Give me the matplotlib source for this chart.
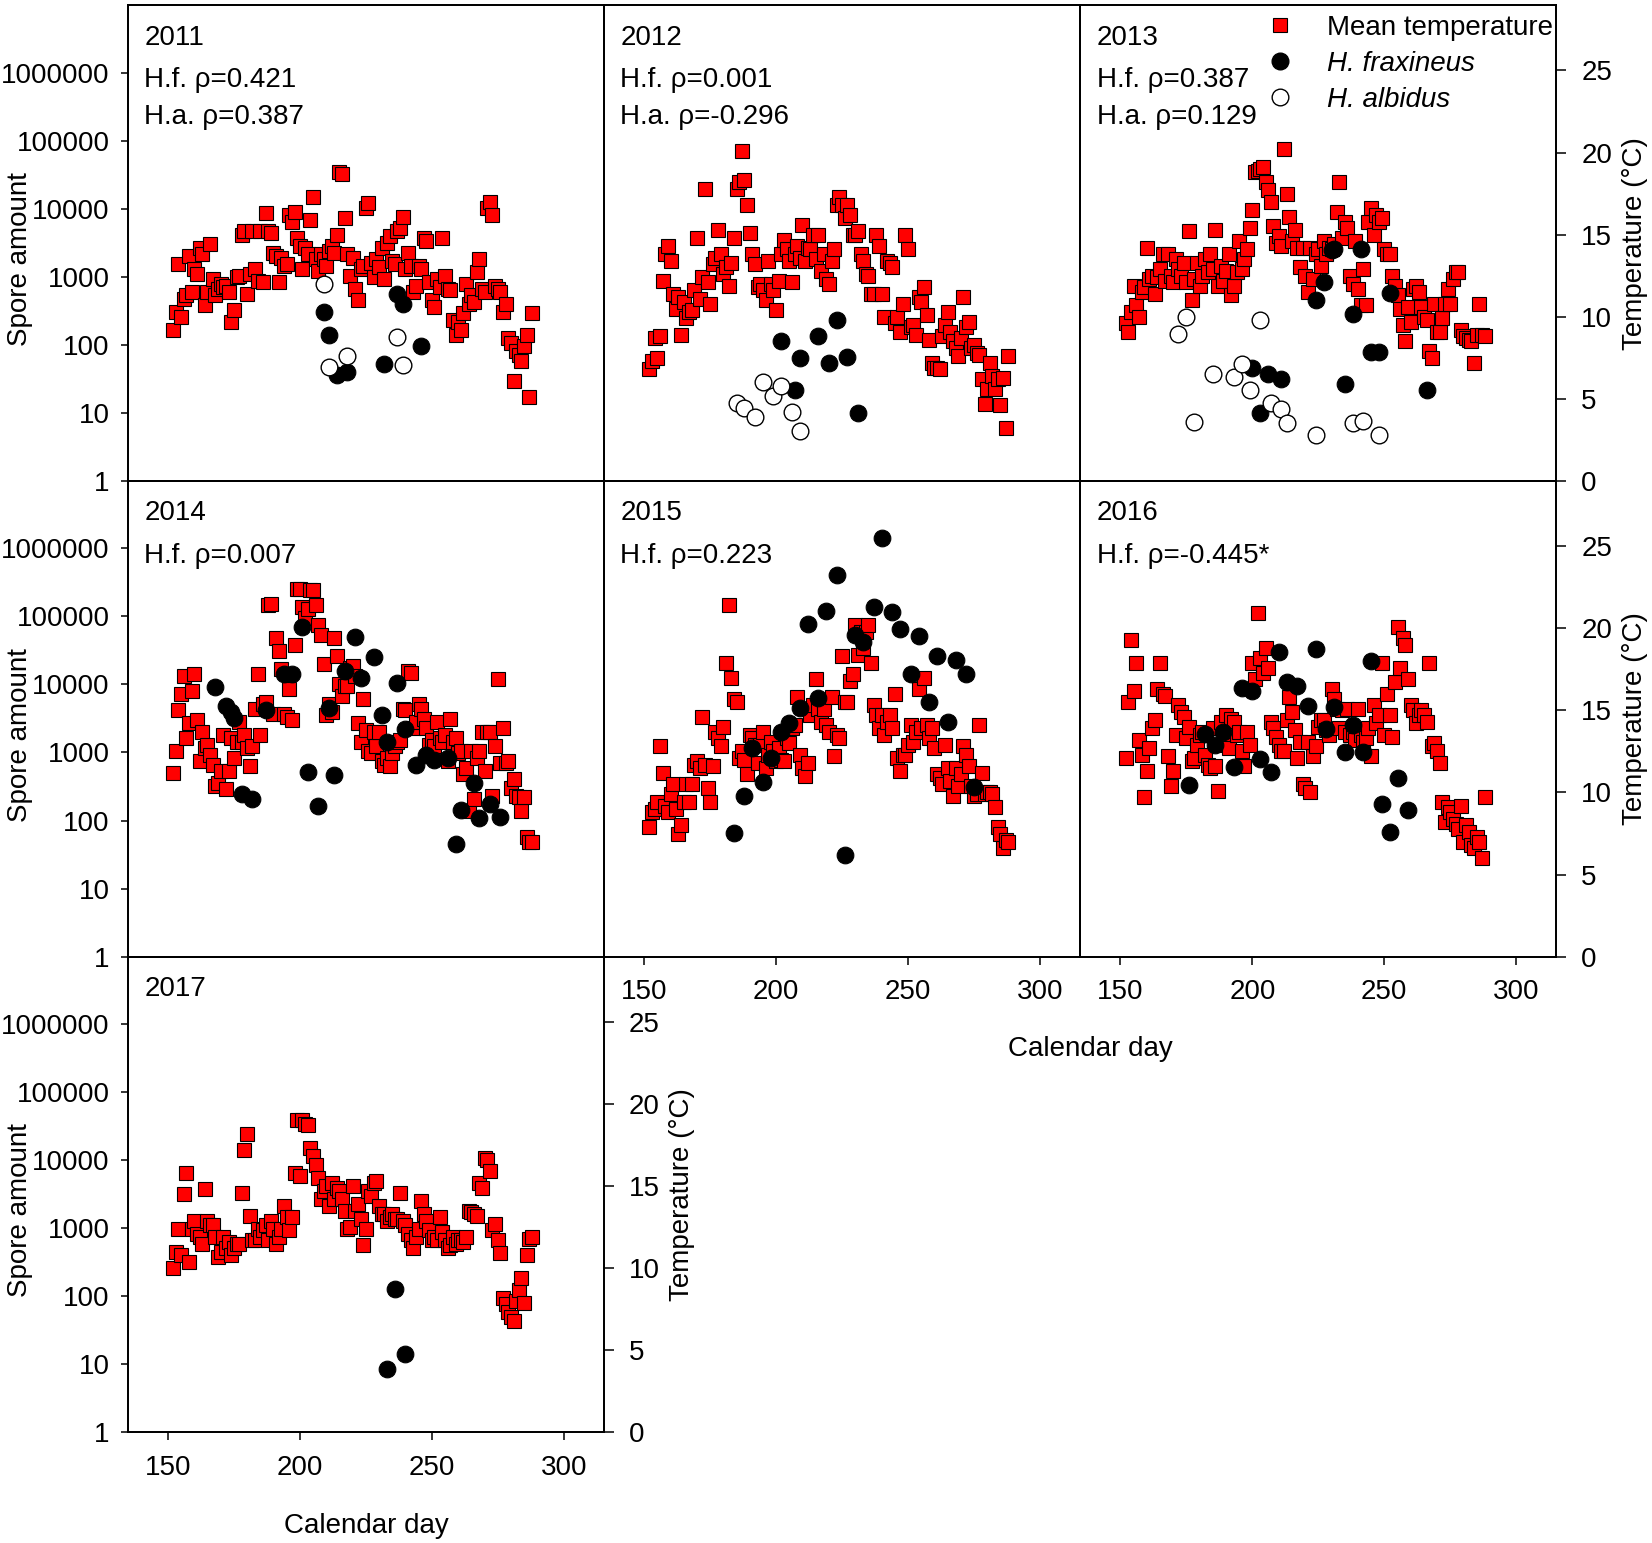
import matplotlib
matplotlib.use("Agg")
import matplotlib.pyplot as plt
import numpy as np
from matplotlib.lines import Line2D
from matplotlib.ticker import NullLocator

plt.rcParams['font.family'] = ['Liberation Sans', 'DejaVu Sans']

# daily mean temperature, calendar days 152-288
days = np.arange(152, 289)

temp_2011 = [
    9.2, 10.3, 13.2, 10.0, 11.1, 11.3, 13.7, 11.5, 12.9, 12.6,
    14.2, 13.8, 10.7, 11.5, 14.4, 12.3, 11.3, 11.7, 12.0, 11.8,
    11.9, 11.5, 9.7, 10.4, 12.4, 12.5, 15.0, 15.2, 11.4, 12.6,
    15.2, 12.9, 12.2, 15.2, 12.1, 16.3, 15.2, 15.1, 13.9, 13.7,
    12.1, 13.6, 13.1, 13.2, 16.2, 15.8, 16.4, 14.8, 14.3, 12.9,
    14.2, 13.8, 15.9, 17.3, 13.5, 12.8, 13.8, 13.5, 13.1, 14.0,
    14.3, 13.9, 15.0, 18.8, 18.7, 16.0, 13.8, 12.5, 13.6, 11.7,
    11.0, 12.9, 13.1, 16.6, 16.9, 13.3, 12.4, 13.5, 13.0, 14.2,
    12.3, 14.5, 14.9, 13.4, 13.2, 15.2, 15.4, 16.1, 12.9, 13.9,
    13.1, 11.5, 11.9, 13.1, 12.9, 14.8, 14.6, 12.1, 11.0, 10.6,
    12.3, 11.8, 14.8, 12.5, 11.7, 11.6, 9.8, 8.9, 9.7, 9.2,
    10.2, 12.0, 10.8, 11.3, 10.9, 12.7, 13.5, 11.7, 11.5, 16.6,
    17.0, 16.2, 11.9, 11.7, 11.5, 10.3, 10.8, 8.7, 8.4, 6.1,
    7.9, 7.7, 7.3, 8.2, 8.9, 5.1, 10.2]

temp_2012 = [
    6.8, 7.3, 8.7, 7.5, 8.8, 12.2, 13.8, 14.3, 13.4, 11.4,
    10.5, 11.2, 8.9, 10.9, 9.9, 10.3, 10.4, 11.6, 14.8, 11.1,
    12.4, 17.8, 12.1, 10.8, 13.2, 13.6, 15.3, 13.8, 12.6, 13.0,
    11.9, 13.3, 14.8, 17.8, 18.2, 20.1, 18.3, 16.8, 15.1, 13.8,
    13.2, 11.8, 12.0, 11.6, 11.0, 13.4, 12.0, 11.6, 10.4, 12.2,
    13.8, 14.7, 14.1, 13.4, 12.1, 13.8, 14.3, 13.6, 15.6, 13.4,
    14.2, 14.1, 15.0, 13.5, 15.0, 12.8, 13.8, 12.3, 12.0, 13.4,
    14.1, 16.8, 17.3, 16.8, 16.0, 16.8, 16.2, 15.0, 15.0, 15.2,
    13.8, 13.4, 12.6, 12.5, 11.4, 11.4, 15.0, 14.3, 11.4, 10.0,
    13.4, 13.3, 13.0, 9.6, 10.0, 9.1, 10.8, 15.0, 14.1, 9.4,
    9.5, 8.9, 11.2, 10.9, 11.8, 10.1, 8.6, 7.2, 6.9, 6.9,
    6.8, 8.8, 9.5, 10.3, 9.1, 8.5, 8.1, 7.6, 8.7, 11.2,
    9.4, 9.7, 8.1, 8.3, 7.8, 7.7, 6.2, 4.7, 5.6, 7.2,
    6.4, 5.6, 6.2, 4.6, 6.3, 3.2, 7.6]

temp_2013 = [
    9.6, 9.1, 10.3, 11.9, 10.7, 10.0, 11.5, 11.8, 14.2, 12.3,
    12.5, 11.4, 12.4, 12.9, 13.8, 12.2, 13.8, 12.5, 12.1, 13.5,
    12.9, 12.5, 13.3, 12.1, 15.2, 11.0, 12.3, 13.3, 11.9, 12.5,
    13.5, 12.7, 13.8, 12.9, 15.3, 11.9, 13.1, 12.2, 12.8, 13.8,
    11.3, 11.9, 12.7, 14.6, 12.9, 13.5, 14.1, 15.4, 16.5, 18.8,
    18.9, 19.0, 19.1, 18.2, 17.7, 17.0, 15.5, 14.5, 14.9, 14.3,
    20.2, 17.5, 16.1, 14.6, 15.3, 14.2, 13.0, 14.2, 12.5, 11.5,
    14.2, 12.3, 13.8, 14.1, 13.1, 14.6, 13.8, 14.2, 14.1, 14.4,
    16.4, 18.2, 14.8, 15.8, 15.4, 12.5, 12.0, 14.6, 11.7, 10.7,
    12.9, 10.7, 15.8, 16.6, 15.0, 16.2, 15.8, 16.0, 14.1, 13.8,
    13.8, 12.5, 11.9, 11.3, 10.5, 9.5, 8.5, 10.6, 9.7, 11.7,
    11.9, 11.5, 10.6, 10.0, 9.8, 7.9, 7.5, 10.8, 9.1, 9.1,
    9.9, 10.8, 11.7, 10.8, 12.3, 12.7, 12.7, 9.2, 8.8, 8.7,
    8.6, 8.5, 7.2, 8.9, 10.8, 8.9, 8.8]

temp_2014 = [
    11.2, 12.5, 15.0, 16.0, 17.1, 13.3, 14.2, 16.2, 17.2, 14.4,
    11.9, 13.7, 12.7, 12.9, 12.3, 11.7, 10.4, 10.6, 11.3, 13.5,
    10.2, 11.3, 13.3, 12.1, 13.1, 14.3, 13.1, 13.5, 12.7, 11.6,
    12.8, 15.1, 17.2, 13.5, 15.4, 15.5, 21.4, 21.5, 14.8, 19.4,
    18.6, 17.5, 14.8, 14.6, 16.3, 14.4, 19.0, 22.4, 22.4, 21.3,
    20.6, 21.2, 22.3, 22.3, 21.4, 20.2, 19.6, 17.8, 14.7, 15.4,
    14.9, 19.4, 18.3, 16.6, 15.9, 16.5, 16.5, 17.6, 17.7, 17.1,
    14.2, 13.1, 15.7, 13.8, 12.5, 12.4, 13.7, 12.8, 13.7, 11.9,
    11.7, 12.1, 11.6, 12.4, 12.8, 13.1, 13.2, 15.1, 15.0, 17.4,
    17.3, 13.9, 14.3, 15.4, 15.1, 14.5, 13.9, 12.9, 13.2, 12.8,
    14.3, 13.3, 13.1, 13.5, 11.9, 14.5, 13.1, 13.3, 12.4, 12.5,
    11.1, 11.5, 8.9, 12.5, 9.6, 12.1, 12.5, 13.7, 11.3, 13.7,
    13.7, 9.8, 12.8, 16.9, 11.8, 13.9, 11.8, 11.9, 10.3, 10.8,
    9.8, 9.7, 8.9, 9.7, 7.3, 7.0, 7.0]

temp_2015 = [
    7.9, 8.8, 9.0, 9.4, 12.8, 11.2, 9.2, 8.8, 9.9, 10.5,
    9.0, 7.5, 8.0, 9.4, 10.5, 9.4, 10.5, 11.7, 11.9, 11.5,
    14.6, 11.7, 10.3, 9.4, 11.6, 13.7, 13.3, 12.8, 14.0, 17.9,
    21.4, 17.0, 15.7, 15.5, 12.1, 12.5, 12.0, 11.1, 13.5, 13.3,
    12.9, 11.8, 12.9, 13.7, 11.5, 12.3, 13.1, 12.5, 11.9, 12.7,
    12.0, 11.9, 13.3, 13.0, 13.9, 14.1, 15.8, 12.3, 11.5, 11.0,
    11.8, 14.7, 15.3, 16.9, 15.1, 14.3, 15.1, 14.1, 13.7, 15.8,
    12.2, 13.5, 13.3, 18.3, 15.5, 15.5, 16.8, 17.2, 20.2, 18.4,
    19.8, 18.8, 19.8, 20.2, 17.9, 15.3, 14.7, 13.9, 14.7, 13.5,
    14.3, 14.7, 13.9, 16.0, 12.1, 11.3, 12.3, 12.3, 12.9, 14.1,
    13.1, 13.7, 16.3, 13.9, 17.0, 14.1, 13.3, 13.9, 12.7, 11.1,
    10.9, 10.5, 12.9, 11.5, 10.7, 9.8, 11.5, 10.4, 11.1, 12.8,
    12.3, 11.6, 10.4, 9.8, 9.9, 14.1, 11.2, 9.9, 10.0, 10.0,
    9.9, 9.1, 7.9, 7.5, 6.6, 7.1, 7.0]

temp_2016 = [
    12.1, 15.5, 19.3, 16.2, 17.9, 13.2, 12.3, 9.7, 11.3, 12.7,
    13.9, 14.4, 16.3, 17.9, 16.0, 15.9, 12.2, 10.4, 11.3, 13.5,
    15.3, 14.9, 14.6, 13.3, 14.0, 11.9, 12.1, 12.9, 13.5, 13.7,
    12.3, 11.7, 11.5, 13.9, 11.6, 10.1, 14.3, 12.9, 14.7, 12.7,
    14.5, 14.3, 13.5, 13.7, 12.5, 11.6, 13.7, 12.9, 17.9, 16.9,
    20.9, 18.2, 17.3, 18.8, 17.6, 14.3, 13.9, 13.4, 12.9, 12.5,
    12.5, 14.4, 15.8, 14.9, 13.8, 12.1, 13.1, 10.5, 10.3, 13.1,
    10.0, 12.2, 12.8, 14.0, 14.4, 14.4, 13.8, 13.5, 16.3, 15.7,
    15.1, 13.9, 15.0, 13.7, 15.1, 13.5, 13.7, 13.2, 15.1, 13.5,
    13.1, 13.3, 13.9, 12.2, 15.3, 14.2, 14.7, 17.9, 13.5, 16.0,
    14.7, 13.4, 16.7, 20.1, 17.6, 19.4, 19.0, 16.9, 15.3, 15.0,
    14.2, 14.7, 15.0, 14.7, 14.3, 17.9, 12.8, 13.0, 12.5, 11.8,
    9.4, 8.2, 9.1, 8.8, 8.4, 8.1, 7.8, 9.2, 7.0, 8.0,
    7.6, 6.8, 6.6, 7.3, 7.0, 6.0, 9.7]

temp_2017 = [
    10.0, 11.0, 12.4, 10.8, 14.5, 15.8, 10.4, 12.4, 12.9, 12.1,
    11.9, 11.5, 14.8, 12.9, 12.6, 12.6, 11.9, 10.7, 11.0, 11.9,
    11.2, 11.6, 10.8, 11.2, 11.5, 11.5, 14.6, 17.2, 18.2, 13.2,
    11.7, 11.7, 12.4, 11.9, 12.3, 12.6, 11.7, 12.9, 12.4, 11.5,
    11.9, 12.4, 13.8, 13.1, 12.3, 13.1, 15.8, 19.0, 15.6, 19.0,
    18.8, 18.7, 17.3, 16.8, 16.3, 15.5, 14.2, 14.7, 15.0, 13.8,
    15.2, 14.2, 14.9, 14.7, 14.2, 13.5, 12.4, 12.5, 15.0, 13.5,
    13.9, 13.0, 11.4, 12.4, 14.7, 14.4, 15.2, 15.3, 13.8, 13.3,
    13.3, 12.9, 13.1, 13.3, 13.0, 13.0, 14.6, 12.9, 12.6, 12.1,
    11.7, 11.2, 11.9, 12.4, 14.1, 13.3, 12.9, 12.3, 11.7, 11.9,
    11.7, 13.1, 12.2, 11.7, 11.2, 11.4, 11.9, 11.5, 11.7, 11.7,
    11.6, 11.9, 13.5, 13.4, 13.3, 13.2, 15.2, 14.9, 16.7, 16.6,
    15.9, 12.3, 12.7, 11.7, 10.9, 8.2, 7.8, 7.3, 7.0, 6.8,
    8.0, 8.7, 9.4, 7.9, 10.8, 11.8, 11.9]

# H. fraxineus spore amounts (day, amount)
hf_days_2011 = [209, 211, 214, 218, 232, 237, 239, 246]
hf_2011 = [308, 139, 36, 40, 52, 550, 405, 96]
hf_days_2012 = [202, 207, 209, 216, 220, 223, 227, 231]
hf_2012 = [113, 22, 63, 134, 55, 235, 67, 10]
hf_days_2013 = [200, 203, 206, 211, 224, 227, 230, 231, 235, 238, 241, 245, 248, 252, 266]
hf_2013 = [46, 9.8, 37, 31, 460, 840, 2450, 2600, 27, 280, 2600, 78, 78, 570, 22]
hf_days_2014 = [168, 172, 174, 175, 178, 182, 187, 194, 197, 201, 203, 207, 211, 213, 217, 221,
                223, 228, 231, 233, 237, 240, 244, 248, 251, 256, 259, 261, 266, 268, 272, 276]
hf_2014 = [9300, 4800, 3900, 3240, 242, 208, 4200, 14000, 14000, 71000, 524, 163, 4550, 466,
           15700, 50000, 12300, 25600, 3540, 1440, 10400, 2200, 650, 910, 775, 820, 46, 142,
           360, 110, 173, 114]
hf_days_2015 = [184, 188, 191, 195, 198, 202, 205, 209, 212, 216, 219, 223, 226, 230, 233, 237,
                240, 244, 247, 251, 254, 258, 261, 265, 268, 272, 275]
hf_2015 = [65, 233, 1150, 373, 820, 2030, 2680, 4550, 76000, 6350, 120000, 410000, 31, 53000,
           42000, 138000, 1440000, 117000, 66000, 14000, 52000, 5450, 26300, 2830, 22700, 14000, 316]
hf_days_2016 = [176, 182, 186, 189, 193, 196, 200, 203, 207, 210, 213, 217, 221, 224, 228, 231,
                235, 238, 242, 245, 249, 252, 255, 259]
hf_2016 = [338, 1890, 1280, 2000, 614, 8900, 7900, 795, 515, 29700, 10800, 9500, 4800, 32700,
           2190, 4650, 1020, 2560, 1020, 22000, 178, 68, 415, 141]
hf_days_2017 = [233, 236, 240]
hf_2017 = [8.6, 127, 14.4]

# H. albidus spore amounts
ha_days_2011 = [209, 211, 218, 237, 239]
ha_2011 = [776, 48, 69, 129, 50]
ha_days_2012 = [185, 188, 192, 195, 199, 202, 206, 209]
ha_2012 = [14, 12, 8.7, 28, 18, 25, 10.4, 5.4]
ha_days_2013 = [172, 175, 178, 185, 193, 196, 199, 203, 207, 211, 213, 224, 238, 242, 248]
ha_2013 = [142, 258, 7.4, 37, 34, 53, 22, 230, 14, 11.4, 7.2, 4.8, 7.2, 7.7, 4.8]

rho_2011 = ['H.f. ρ=0.421', 'H.a. ρ=0.387']
rho_2012 = ['H.f. ρ=0.001', 'H.a. ρ=-0.296']
rho_2013 = ['H.f. ρ=0.387', 'H.a. ρ=0.129']
rho_2014 = ['H.f. ρ=0.007']
rho_2015 = ['H.f. ρ=0.223']
rho_2016 = ['H.f. ρ=-0.445*']
rho_2017 = []

spore_ticks = [1, 10, 100, 1000, 10000, 100000, 1000000]
spore_labels = ['1', '10', '100', '1000', '10000', '100000', '1000000']
temp_ticks = [0, 5, 10, 15, 20, 25]
day_ticks = [150, 200, 250, 300]

FS = 20
RED = '#ff0000'

fig = plt.figure(figsize=(16.52, 15.43), dpi=100)
col_left = [0.0772, 0.3655, 0.6538]
row_bottom = [0.6883, 0.3800, 0.0717]
pw, ph = 0.2883, 0.3083

panels = [
    (2011, 0, 0, temp_2011, hf_days_2011, hf_2011, ha_days_2011, ha_2011, rho_2011),
    (2012, 0, 1, temp_2012, hf_days_2012, hf_2012, ha_days_2012, ha_2012, rho_2012),
    (2013, 0, 2, temp_2013, hf_days_2013, hf_2013, ha_days_2013, ha_2013, rho_2013),
    (2014, 1, 0, temp_2014, hf_days_2014, hf_2014, [], [], rho_2014),
    (2015, 1, 1, temp_2015, hf_days_2015, hf_2015, [], [], rho_2015),
    (2016, 1, 2, temp_2016, hf_days_2016, hf_2016, [], [], rho_2016),
    (2017, 2, 0, temp_2017, hf_days_2017, hf_2017, [], [], rho_2017),
]

for year, r, c, temps, hfd, hfv, had, hav, rho in panels:
    ax = fig.add_axes([col_left[c], row_bottom[r], pw, ph])
    ax2 = ax.twinx()
    ax.set_zorder(ax2.get_zorder() + 1)
    ax.patch.set_visible(False)

    ax2.plot(days, temps, 's', color=RED, mec='black', mew=0.8, ms=10.5)
    ax.plot(hfd, hfv, 'o', color='black', mec='black', mew=0.8, ms=12)
    if had:
        ax.plot(had, hav, 'o', color='white', mec='black', mew=1.0, ms=12)

    ax.set_yscale('log')
    ax.set_ylim(1, 10 ** 6.99)
    ax2.set_ylim(0, 28.97)
    ax.set_xlim(134.7, 315.2)
    ax.set_yticks(spore_ticks)
    ax.set_yticklabels(spore_labels)
    ax.yaxis.set_minor_locator(NullLocator())
    ax2.set_yticks(temp_ticks)
    ax.set_xticks(day_ticks)

    show_left = c == 0
    show_right = (c == 2) or (r == 2)
    show_bottom = (r == 1 and c > 0) or r == 2
    ax.tick_params(axis='y', which='both', direction='out', length=5, width=1.1, pad=8,
                   labelsize=FS, left=show_left, labelleft=show_left, right=False)
    ax.tick_params(axis='x', direction='out', length=6, width=1.1, pad=10, labelsize=FS,
                   bottom=show_bottom, labelbottom=show_bottom, top=False)
    ax2.tick_params(axis='y', direction='out', length=7, width=1.1, pad=11, labelsize=FS,
                    right=show_right, labelright=show_right, left=False)
    for a in (ax, ax2):
        for s in a.spines.values():
            s.set_linewidth(1.3)

    ax.text(0.035, 0.932, str(year), transform=ax.transAxes, fontsize=FS, va='center')
    for i, t in enumerate(rho):
        ax.text(0.035, 0.843 - 0.077 * i, t, transform=ax.transAxes, fontsize=FS, va='center')

    yc = row_bottom[r] + ph / 2
    if show_left:
        fig.text(0.0121, yc - 0.0104, 'Spore amount', rotation=90, ha='center', va='center',
                 fontsize=FS)
    if show_right:
        xr = 0.9897 if c == 2 else 0.413
        fig.text(xr, yc, 'Temperature (°C)', rotation=90, ha='center', va='center', fontsize=FS)

    if year == 2013:
        handles = [
            Line2D([], [], ls='none', marker='s', color=RED, mec='black', mew=0.8, ms=10.5),
            Line2D([], [], ls='none', marker='o', color='black', ms=12),
            Line2D([], [], ls='none', marker='o', color='white', mec='black', mew=1.0, ms=12),
        ]
        leg = ax.legend(handles, ['Mean temperature', 'H. fraxineus', 'H. albidus'],
                        loc='upper left', bbox_to_anchor=(0.362, 0.997), frameon=False,
                        fontsize=FS, handlelength=1.4, handletextpad=1.0, labelspacing=0.36,
                        borderaxespad=0, borderpad=0.3)
        for t in leg.get_texts()[1:]:
            t.set_style('italic')

fig.text(0.660, 0.320, 'Calendar day', ha='center', va='center', fontsize=FS)
fig.text(0.222, 0.0110, 'Calendar day', ha='center', va='center', fontsize=FS)

fig.savefig('out.png', dpi=100)
